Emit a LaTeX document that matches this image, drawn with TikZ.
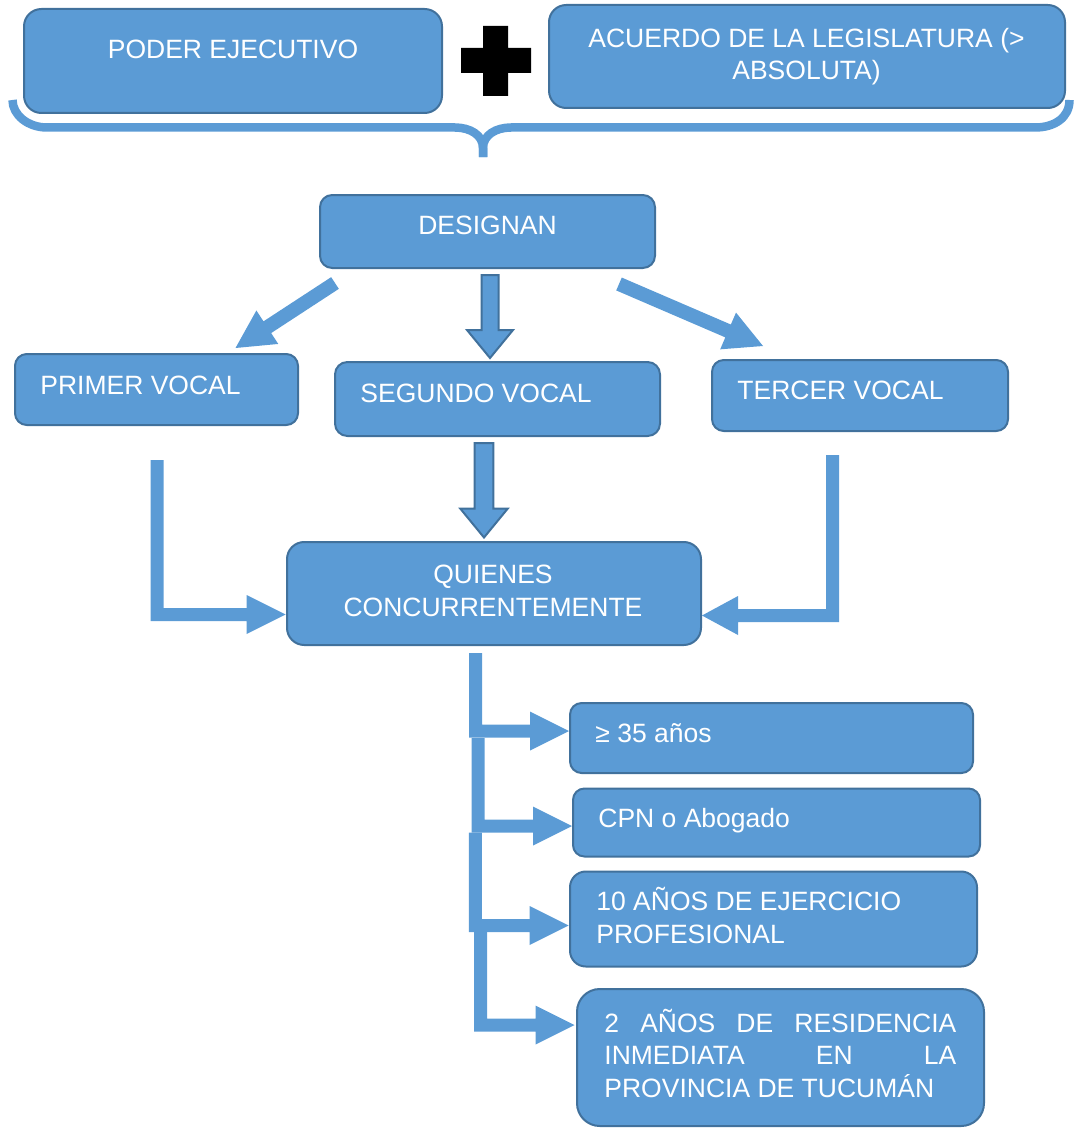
\documentclass[tikz,border=0pt]{standalone}
\usepackage{fontspec}
\setmainfont{Liberation Sans}
\usetikzlibrary{calc}
\definecolor{boxfill}{HTML}{5B9BD5}
\definecolor{boxline}{HTML}{41719C}

% straight block arrow: [style]{from}{to}{shaft half width}{head half width}{head length}
\newcommand\blockarrow[6][]{%
  \path[#1] let \p1=($(#3)-(#2)$), \n1={atan2(\y1,\x1)}, \n2={veclen(\x1,\y1)} in
    ($(#2)+(\n1+90:#4)$) -- ++(\n1:\n2-#6) -- ++(\n1+90:#5-#4) -- (#3)
    -- ($(#2)+(\n1:\n2-#6)+(\n1-90:#5)$) -- ++(\n1+90:#5-#4)
    -- ($(#2)+(\n1-90:#4)$) -- cycle;}

% elbow block arrow, down then sideways: [style]{start}{tip}{shaft half width}{head half width}{head length}
\newcommand\elbowarrow[6][]{%
  \path[#1] let \p1=(#2), \p2=(#3), \n1={(\x2-\x1)/abs(\x2-\x1)} in
    ({\x1-(\n1)*(#4)},\y1) -- ({\x1+(\n1)*(#4)},\y1)
    -- ({\x1+(\n1)*(#4)},{\y2+#4}) -- ({\x2-(\n1)*(#6)},{\y2+#4})
    -- ({\x2-(\n1)*(#6)},{\y2+#5}) -- (\x2,\y2)
    -- ({\x2-(\n1)*(#6)},{\y2-#5}) -- ({\x2-(\n1)*(#6)},{\y2-#4})
    -- ({\x1-(\n1)*(#4)},{\y2-#4}) -- cycle;}

\begin{document}
\begin{tikzpicture}[x=0.5pt,y=-0.5pt,
  box/.style={draw=boxline, fill=boxfill, line width=1pt, inner sep=0pt, outer sep=0pt},
  txt/.style={text=white, font=\fontsize{13.25}{16.2}\selectfont, inner sep=0pt},
  arrowf/.style={fill=boxfill},
  arrowb/.style={fill=boxfill, draw=boxline, line width=1pt, line join=miter},
  bracestroke/.style={draw=boxfill, line width=4.25pt}]
\useasboundingbox (0,0) rectangle (1074,1129);

% top row (multi-line texts are placed by the baseline of their last line)
\node[box, minimum width=209pt, minimum height=52pt, rounded corners=8.7pt] (pe) at (233,61) {};
\node[box, minimum width=258pt, minimum height=51.5pt, rounded corners=8.6pt] (al) at (807,56.5) {};
\node[txt, anchor=base] (pe-t) at (233,58.3) {PODER EJECUTIVO};
\node[txt, anchor=base, align=center] (al-t) at (806.5,80) {ACUERDO DE LA LEGISLATURA (>\\ABSOLUTA)};

% plus sign
\fill[black] (483,26) rectangle (508,96) (461,48) rectangle (531,73);

% brace under the top row
\path[bracestroke] (12.5,100) .. controls (12.5,115) and (28,127.5) .. (47,127.5)
  -- (455,127.5) .. controls (470,127.5) and (483,135) .. (483,148) -- (483,157);
\path[bracestroke] (483,157) -- (483,148) .. controls (483,135) and (496,127.5) .. (511,127.5)
  -- (1035,127.5) .. controls (1054,127.5) and (1069.5,118) .. (1069.5,100);

% second level
\node[box, minimum width=167.5pt, minimum height=36.5pt, rounded corners=6.1pt] (des) at (487.5,231.5) {};
\node[txt, anchor=base] (des-t) at (487.5,234) {DESIGNAN};

\node[box, minimum width=141.5pt, minimum height=35.5pt, rounded corners=5.9pt] (v1) at (156.5,389.5) {};
\node[box, minimum width=162.5pt, minimum height=37pt, rounded corners=6.2pt] (v2) at (497.5,399) {};
\node[box, minimum width=148pt, minimum height=35.5pt, rounded corners=5.9pt] (v3) at (860,395.5) {};
\node[txt, anchor=base west] (v1-t) at (40,394) {PRIMER VOCAL};
\node[txt, anchor=base west] (v2-t) at (360,402) {SEGUNDO VOCAL};
\node[txt, anchor=base west] (v3-t) at (737,399) {TERCER VOCAL};

\node[box, minimum width=207pt, minimum height=51.5pt, rounded corners=8.6pt] (q) at (494,593.5) {};
\node[txt, anchor=base, align=center] (q-t) at (493,616) {QUIENES\\CONCURRENTEMENTE};

% requirements
\node[box, minimum width=201.5pt, minimum height=35pt, rounded corners=5.8pt] (r1) at (771.5,738) {};
\node[box, minimum width=203.5pt, minimum height=34pt, rounded corners=5.7pt] (r2) at (776.5,822.5) {};
\node[box, minimum width=203.5pt, minimum height=47.5pt, rounded corners=7.9pt] (r3) at (773.5,919) {};
\node[box, minimum width=203.5pt, minimum height=68.5pt, rounded corners=11.4pt] (r4) at (780.5,1057.5) {};
\node[txt, anchor=base west] (r1-t) at (595,742) {≥ 35 años};
\node[txt, anchor=base west] (r2-t) at (598,827) {CPN o Abogado};
\node[txt, anchor=base west, align=left] (r3-t) at (596,943) {10 AÑOS DE EJERCICIO\\PROFESIONAL};
\node[txt, anchor=base west, align=left] (r4-t) at (604,1097)
  {\makebox[176pt][s]{2 AÑOS DE RESIDENCIA}\\\makebox[176pt][s]{INMEDIATA EN LA}\\PROVINCIA DE TUCUMÁN};

% arrows from DESIGNAN
\coordinate (d1s) at ($(des.south west)+(15,15)$);
\coordinate (d1e) at ($(v1.north)+(79,-6)$);
\coordinate (d2s) at ($(des.south)+(2.5,7)$);
\coordinate (d2e) at ($(v2.north)+(-7.5,-4)$);
\coordinate (d3s) at ($(des.south east)+(-36,16)$);
\coordinate (d3e) at ($(v3.north)+(-97,-14)$);
\blockarrow[arrowf]{d1s}{d1e}{3.5pt}{10pt}{19pt}
\blockarrow[arrowb]{d2s}{d2e}{4.25pt}{11.5pt}{14pt}
\blockarrow[arrowf]{d3s}{d3e}{3.5pt}{10pt}{19pt}

% arrows into QUIENES CONCURRENTEMENTE
\coordinate (v2s) at ($(v2.south)+(-13.5,7)$);
\coordinate (v2e) at ($(q.north)+(-10,-4.5)$);
\blockarrow[arrowb]{v2s}{v2e}{4.7pt}{11.9pt}{14.5pt}
\coordinate (l0) at ($(v1.south)+(0.5,35)$);
\coordinate (lq) at ($(q.west)+(-1.3,21)$);
\elbowarrow[arrowf]{l0}{lq}{3.25pt}{9.75pt}{19.5pt}
\coordinate (r0) at ($(v3.south)+(-27.5,24)$);
\coordinate (rq) at ($(q.east)+(1,22)$);
\elbowarrow[arrowf]{r0}{rq}{3.25pt}{9.75pt}{18pt}

% branches to the requirements
\coordinate (b1) at ($(q.south)+(-18.5,8)$);
\coordinate (b1e) at ($(r1.west)+(-1,-7)$);
\coordinate (b2) at (478,738);
\coordinate (b2e) at ($(r2.west)+(-1,3.5)$);
\coordinate (b3) at (475.3,832.5);
\coordinate (b3e) at ($(r3.west)+(-1.4,6.5)$);
\coordinate (b4) at (480.5,932);
\coordinate (b4e) at ($(r4.west)+(-2.5,-32.5)$);
\elbowarrow[arrowf]{b1}{b1e}{3.25pt}{9.75pt}{19.5pt}
\elbowarrow[arrowf]{b2}{b2e}{3.25pt}{9.75pt}{19.5pt}
\elbowarrow[arrowf]{b3}{b3e}{3.25pt}{9.75pt}{19.5pt}
\elbowarrow[arrowf]{b4}{b4e}{3.25pt}{9.75pt}{19.5pt}
\end{tikzpicture}
\end{document}
